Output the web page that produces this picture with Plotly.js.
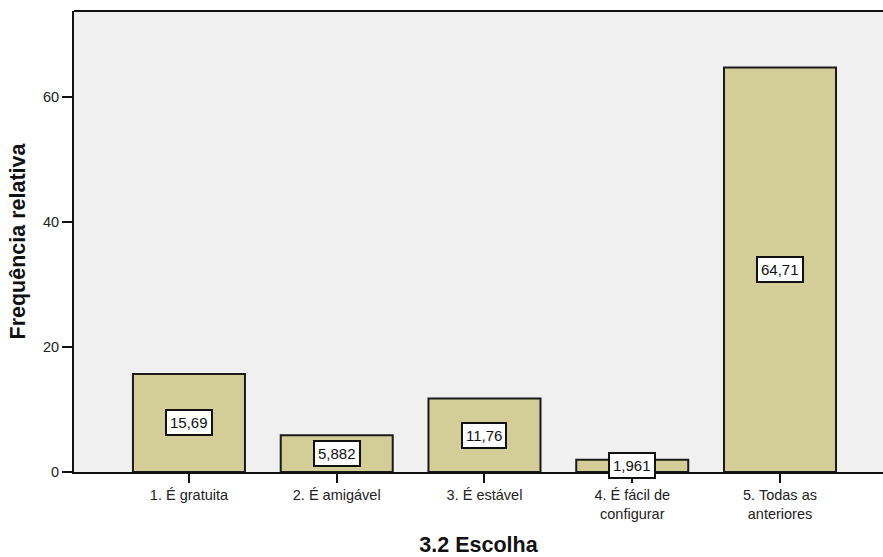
<!DOCTYPE html>
<html>
<head>
<meta charset="utf-8">
<script src="https://cdn.plot.ly/plotly-3.0.1.min.js"></script>
<style>html,body{margin:0;padding:0;background:#fff;}#chart{width:883px;height:557px;}</style>
</head>
<body>
<div id="chart"></div>
<script>
var categories = ["1. É gratuita", "2. É amigável", "3. É estável", "4. É fácil de<br>configurar", "5. Todas as<br>anteriores"];
var values = [15.69, 5.882, 11.76, 1.961, 64.71];
var valueLabels = ["15,69", "5,882", "11,76", "1,961", "64,71"];
var yTicks = [0, 20, 40, 60];

var xIdx = categories.map(function(c, i){ return i; });
var FONT = "Liberation Sans, Arial, sans-serif";

var trace = {
  type: "bar",
  x: xIdx,
  y: values,
  width: 0.758,
  marker: {color: "#d3ce97", line: {color: "#1a1a1a", width: 2}},
  hoverinfo: "none"
};

var annotations = values.map(function(v, i){
  return {
    x: i, y: v / 2, xref: "x", yref: "y",
    text: valueLabels[i], showarrow: false,
    bgcolor: "#ffffff", bordercolor: "#111111", borderwidth: 2, borderpad: 3,
    font: {family: FONT, size: 15, color: "#111"}
  };
});

var layout = {
  width: 883, height: 557,
  margin: {l: 74, r: 0, t: 11, b: 85},
  paper_bgcolor: "#ffffff",
  plot_bgcolor: "#f0f0f0",
  showlegend: false,
  xaxis: {
    range: [-0.778, 4.697],
    tickmode: "array", tickvals: xIdx, ticktext: categories,
    ticks: "outside", ticklen: 9, tickwidth: 2, tickcolor: "#111",
    showline: true, linecolor: "#111", linewidth: 2,
    showgrid: false, zeroline: false,
    tickfont: {family: FONT, size: 14.5, color: "#222"},
    title: {text: "<b>3.2 Escolha</b>", standoff: 18, font: {family: FONT, size: 21.5, color: "#111"}}
  },
  yaxis: {
    range: [0, 73.76],
    tickmode: "array", tickvals: yTicks,
    ticks: "outside", ticklen: 10, tickwidth: 2, tickcolor: "#111",
    showline: true, linecolor: "#111", linewidth: 2,
    showgrid: false, zeroline: false,
    tickfont: {family: FONT, size: 14.5, color: "#222"},
    title: {text: "<b>Frequência relativa</b>", standoff: 11, font: {family: FONT, size: 21.5, color: "#111"}}
  },
  shapes: [{
    type: "line", xref: "paper", yref: "paper", x0: 0, x1: 1, y0: 1, y1: 1,
    line: {color: "#111", width: 2}
  }],
  annotations: annotations
};

Plotly.newPlot("chart", [trace], layout, {staticPlot: true, displayModeBar: false});
</script>
</body>
</html>
